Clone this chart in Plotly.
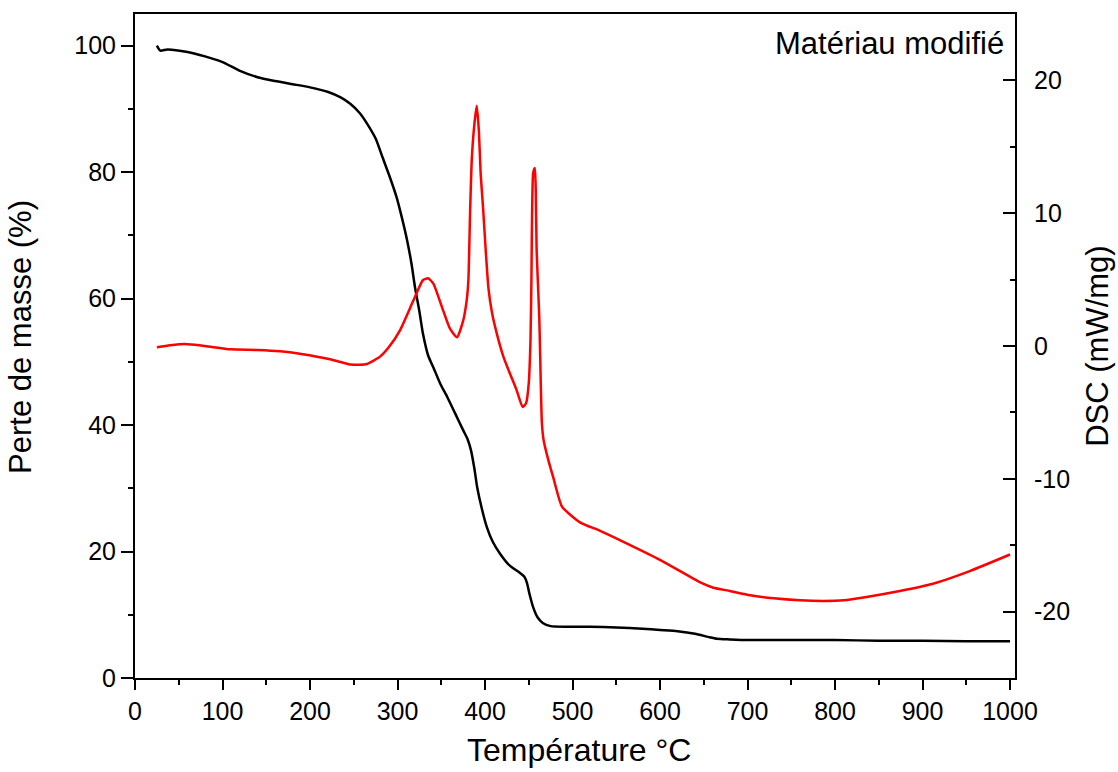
import plotly.graph_objects as go

# TGA (mass loss) curve
tga_temp = [25, 29, 37, 60, 80, 100, 120, 140, 160, 180, 200, 220, 235, 246, 257, 265, 275, 283,
            291, 299, 305, 311, 316, 320, 325, 329, 335, 341, 349, 357, 366, 375, 380, 384, 388,
            391, 396, 402, 409, 417, 428, 440, 445, 448, 451, 455, 460, 466, 475, 494, 520, 550,
            580, 600, 620, 640, 655, 665, 680, 700, 750, 800, 850, 900, 950, 1000]
tga_mass = [100.0, 99.2, 99.4, 99.0, 98.3, 97.4, 96.0, 95.0, 94.4, 93.9, 93.4, 92.7, 91.8, 90.8,
            89.3, 87.7, 85.3, 82.3, 79.3, 76.0, 72.8, 69.2, 65.5, 61.8, 58.0, 54.5, 51.0, 49.1,
            46.5, 44.4, 41.8, 39.2, 37.8, 36.0, 33.0, 30.2, 27.0, 23.9, 21.5, 19.7, 17.8, 16.6,
            16.0, 15.0, 13.2, 11.2, 9.6, 8.7, 8.2, 8.1, 8.1, 8.0, 7.8, 7.6, 7.4, 7.0, 6.5, 6.2,
            6.1, 6.0, 6.0, 6.0, 5.9, 5.9, 5.8, 5.8]

# DSC curve
dsc_temp = [25, 40, 57, 80, 109, 140, 166, 190, 223, 246, 265, 280, 290, 303, 318, 329, 335, 341,
            352, 360, 368, 375, 379, 381, 383, 385, 388, 390.6, 393, 395, 398, 401, 404, 408, 414,
            421, 428, 436, 443, 447, 450, 452, 453, 455, 457, 458, 459, 462, 465, 467, 472, 478,
            488, 509, 531, 560, 600, 646, 661, 680, 703, 730, 760, 786, 810, 836, 874, 912, 954,
            1000]
dsc_val = [-0.1, 0.05, 0.15, 0.0, -0.25, -0.3, -0.4, -0.6, -1.0, -1.4, -1.35, -0.8, -0.1, 1.2,
           3.4, 4.95, 5.1, 4.7, 2.7, 1.3, 0.65, 1.9, 3.4, 4.95, 10.2, 14.2, 16.8, 18.1, 16.2, 13.0,
           10.2, 7.0, 4.3, 2.5, 0.8, -0.8, -2.0, -3.3, -4.6, -4.3, -2.8, 0.5, 4.7, 13.0, 13.4,
           11.7, 7.2, 2.2, -5.8, -7.1, -8.5, -9.9, -12.1, -13.3, -13.9, -14.8, -16.1, -17.8,
           -18.2, -18.45, -18.77, -19.0, -19.15, -19.2, -19.15, -18.9, -18.45, -17.9, -16.95,
           -15.7]

# tick values of the right (DSC) axis
dsc_ticks = [-20, -10, 0, 10, 20]
dsc_ticklabels = [str(v) for v in dsc_ticks]  # plain hyphen-minus as in the original

FONT = "Liberation Sans, Arial, sans-serif"

fig = go.Figure()
fig.add_trace(go.Scatter(x=tga_temp, y=tga_mass, mode="lines",
                         line=dict(color="black", width=2.5, shape="spline", smoothing=0.6),
                         yaxis="y", showlegend=False))
fig.add_trace(go.Scatter(x=dsc_temp, y=dsc_val, mode="lines",
                         line=dict(color="#ff0000", width=2.5, shape="spline", smoothing=0.5),
                         yaxis="y2", showlegend=False))

axis_common = dict(showline=True, linecolor="black", linewidth=2, showgrid=False, zeroline=False,
                   tickfont=dict(family=FONT, size=25, color="black"), tickwidth=2,
                   tickcolor="black")

fig.update_layout(
    width=1118, height=772,
    margin=dict(l=135, r=103, t=14, b=94),
    paper_bgcolor="white", plot_bgcolor="white",
    font=dict(family=FONT, color="black"),
    xaxis=dict(range=[0, 1005.7], tickmode="linear", tick0=0, dtick=100, ticks="outside",
               ticklen=10, mirror=True,
               minor=dict(dtick=50, ticks="outside", ticklen=5, tickwidth=2, tickcolor="black"),
               **axis_common),
    yaxis=dict(range=[0, 105], tickmode="linear", tick0=0, dtick=20, ticks="outside",
               ticklen=12,
               minor=dict(dtick=10, ticks="outside", ticklen=5, tickwidth=2, tickcolor="black"),
               **axis_common),
    yaxis2=dict(range=[-25, 25], overlaying="y", side="right", tickmode="array",
                tickvals=dsc_ticks, ticktext=dsc_ticklabels,
                ticks="inside", ticklen=12, ticklabelstandoff=12,
                minor=dict(tickmode="linear", tick0=-25, dtick=5, ticks="inside", ticklen=5,
                           tickwidth=2, tickcolor="black"),
                **axis_common),
    annotations=[
        dict(text="Matériau modifié", xref="paper", yref="paper", x=0.99, y=0.985,
             xanchor="right", yanchor="top", showarrow=False,
             font=dict(family=FONT, size=31, color="black")),
        dict(text="Température °C", xref="paper", yref="paper", x=0.504, y=-0.108,
             xanchor="center", yanchor="middle", showarrow=False,
             font=dict(family=FONT, size=32, color="black")),
        dict(text="Perte de masse (%)", xref="paper", yref="paper", x=-0.13, y=0.513,
             xanchor="center", yanchor="middle", textangle=-90, showarrow=False,
             font=dict(family=FONT, size=31, color="black")),
        dict(text="DSC (mW/mg)", xref="paper", yref="paper", x=1.093, y=0.5,
             xanchor="center", yanchor="middle", textangle=-90, showarrow=False,
             font=dict(family=FONT, size=31, color="black")),
    ],
)

fig.write_html("out.html")
